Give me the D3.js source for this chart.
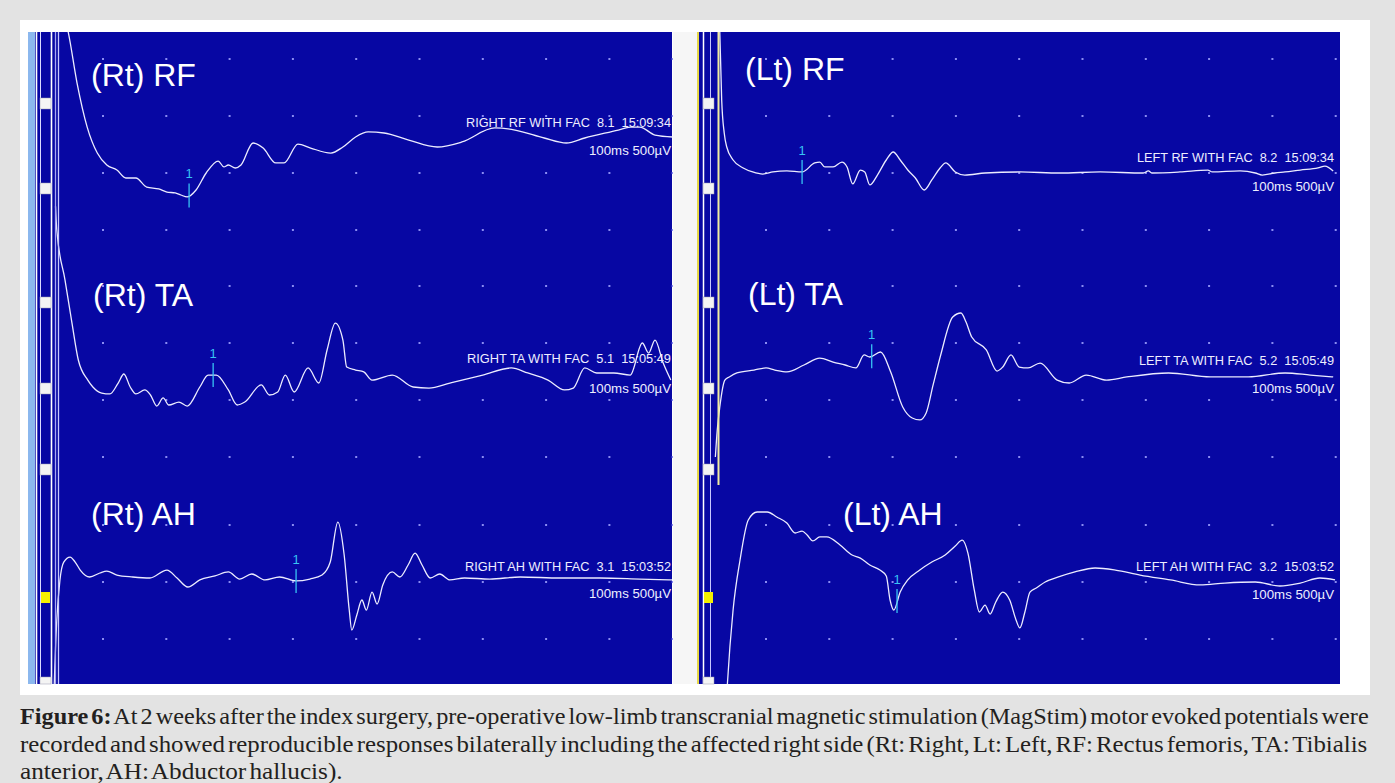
<!DOCTYPE html>
<html><head><meta charset="utf-8">
<script src="https://cdn.jsdelivr.net/npm/d3@7"></script>
<style>body{margin:0;background:#e3e3e3;} svg{display:block}</style>
</head><body><svg id="c" width="1395" height="783"></svg>
<script>
// ---- data: [time (ms), amplitude (µV)] ----
const rtRF = [[3.6,1430],[4.5,1237],[5.9,789],[7.5,403],[9.1,175],[10.6,70],[12.2,26],[13.6,-44],[15.2,-44],[16.9,-123],[18.8,-140],[20.1,-167],[21.4,-175],[22.3,-193],[23.3,-210],[24.7,-149],[26.3,0],[28.2,105],[29.1,53],[29.8,70],[30.9,44],[31.8,70],[33.7,263],[35.3,219],[37.3,88],[38.6,88],[40.8,254],[42.8,219],[46.0,175],[47.9,228],[49.9,316],[51.9,360],[54.4,351],[58.3,289],[62.8,228],[66.7,272],[71.9,395],[75.1,377],[79.7,307],[83.2,263],[86.1,307],[91.4,377],[93.3,403],[94.8,403],[97.2,333],[100,316]];
const rtTA = [[2.5,1700],[2.7,1491],[4.0,1052],[5.1,675],[6.1,351],[7.6,175],[8.4,114],[9.8,61],[11.1,53],[12.4,149],[13.3,228],[14.3,114],[15.2,53],[16.6,88],[17.5,44],[18.5,-53],[19.5,18],[20.4,-44],[22.0,-18],[23.3,-53],[25.3,114],[26.6,219],[27.9,219],[29.8,88],[31.2,-44],[32.4,-18],[35.0,132],[36.3,44],[37.6,70],[38.8,219],[40.2,70],[42.4,281],[44.1,149],[45.4,439],[46.7,675],[47.9,526],[48.5,289],[49.9,263],[51.2,246],[52.5,175],[55.7,219],[59.0,114],[61.5,105],[64.8,149],[70.0,219],[74.5,281],[77.1,237],[80.3,175],[82.9,88],[84.3,105],[86.1,281],[88.0,237],[90.7,237],[93.3,219],[95.2,500],[96.2,412],[97.2,526],[98.5,324],[99.7,175]];
const rtAH = [[2.0,-1500],[2.3,-895],[2.7,-333],[3.2,18],[3.8,175],[4.8,219],[5.6,175],[6.4,105],[7.9,44],[9.5,79],[10.6,96],[12.2,61],[14.7,44],[17.4,35],[20.1,105],[21.7,35],[23.4,-44],[25.3,18],[27.7,53],[29.8,88],[31.6,26],[33.5,70],[35.6,18],[37.9,44],[40.5,9],[42.7,26],[44.6,61],[45.9,175],[47.1,526],[48.1,237],[48.9,-246],[49.3,-421],[50.1,-289],[50.9,-158],[51.6,-246],[52.5,-88],[53.3,-193],[54.2,-26],[55.7,88],[56.9,44],[58.2,149],[59.3,254],[60.4,149],[61.7,35],[63.2,70],[64.8,18],[67.1,35],[71.1,26],[75.9,44],[82.2,35],[88.5,35],[94.8,26],[99.9,18]];
const ltRF = [[2.6,1500],[2.7,1237],[3.0,640],[3.4,351],[3.8,228],[4.8,114],[6.4,44],[7.9,9],[9.5,-9],[11.1,9],[13.3,18],[15.7,9],[17.7,88],[18.5,96],[19.3,53],[20.6,53],[22.0,96],[22.8,53],[23.7,-96],[24.9,26],[25.6,9],[26.4,-105],[27.6,-18],[29.0,114],[30.1,184],[31.2,114],[32.4,26],[33.6,-44],[35.0,-149],[36.2,-61],[37.5,44],[38.4,88],[39.9,9],[41.4,-18],[44.6,0],[50.1,9],[56.4,0],[62.8,9],[69.6,0],[70.4,18],[71.0,0],[75.4,9],[79.8,26],[80.5,9],[84.9,18],[87.3,0],[88.4,-18],[90.4,0],[92.0,9],[94.4,26],[97.2,44],[98.3,61],[99.6,18]];
const ltTA = [[2.0,-500],[2.3,-263],[2.7,-61],[3.5,175],[4.2,202],[5.4,237],[8.1,263],[10.0,281],[11.4,263],[13.3,246],[16.0,307],[18.5,368],[20.6,333],[22.5,307],[24.2,281],[25.5,395],[26.4,377],[28.1,421],[29.7,246],[31.6,-61],[33.1,-158],[34.3,-175],[35.3,-114],[36.4,132],[37.6,395],[39.5,728],[40.8,763],[41.6,684],[42.5,553],[44.8,439],[46.5,254],[47.4,289],[48.7,395],[50.0,289],[51.4,281],[53.3,324],[56.0,175],[57.9,149],[60.6,219],[63.8,175],[67.0,202],[73.6,237],[80.2,202],[86.2,202],[92.0,237],[96.0,219],[99.6,202]];
const ltAH = [[3.6,-1200],[3.9,-895],[4.8,-246],[5.9,193],[7.2,544],[8.6,614],[10.2,614],[11.7,570],[13.3,517],[14.6,430],[15.7,447],[16.5,412],[17.4,360],[18.5,395],[19.6,395],[21.7,324],[23.6,237],[24.9,210],[26.4,149],[28.0,105],[29.0,53],[29.6,-158],[30.2,-246],[31.2,-88],[32.4,18],[34.3,105],[36.2,175],[38.3,237],[39.9,316],[41.0,368],[41.9,254],[42.9,-70],[43.7,-263],[44.6,-202],[45.4,-281],[46.3,-175],[47.4,-88],[48.5,-158],[49.5,-333],[50.1,-403],[50.9,-263],[51.7,-88],[52.7,-53],[54.1,0],[56.2,44],[58.8,88],[62.0,123],[65.2,105],[69.1,61],[73.9,18],[78.6,-26],[82.5,-9],[87.3,0],[91.2,-35],[94.4,-9],[97.5,35],[99.9,18]];

const traceNames = ["(Rt) RF","(Rt) TA","(Rt) AH","(Lt) RF","(Lt) TA","(Lt) AH"];
const infoLabels = ["RIGHT RF WITH FAC  8.1  15:09:34","RIGHT TA WITH FAC  5.1  15:05:49","RIGHT AH WITH FAC  3.1  15:03:52",
                    "LEFT RF WITH FAC  8.2  15:09:34","LEFT TA WITH FAC  5.2  15:05:49","LEFT AH WITH FAC  3.2  15:03:52"];
const scaleLabel = "100ms 500µV";
const markerTimes = [23.6, 27.4, 40.5, 15.7, 26.7, 30.7];
const markerText = "1";
const timeTicks = [10,20,30,40,50,60,70,80,90,100];
const captionBold = "Figure 6:";
const captionLines = [
  " At 2 weeks after the index surgery, pre-operative low-limb transcranial magnetic stimulation (MagStim) motor evoked potentials were",
  "recorded and showed reproducible responses bilaterally including the affected right side (Rt: Right, Lt: Left, RF: Rectus femoris, TA: Tibialis",
  "anterior, AH: Abductor hallucis)."
];
const traces = [rtRF, rtTA, rtAH, ltRF, ltTA, ltAH];

// ---- layout ----
const W = 1395, H = 783;
const svg = d3.select('#c');
const BLUE = '#0707a3';
svg.append('rect').attr('width', W).attr('height', H).attr('fill', '#e3e3e3');
svg.append('rect').attr('x', 20).attr('y', 20).attr('width', 1350).attr('height', 675).attr('fill', '#ffffff');

const panels = [
  {x0: 39.7, left: 28, right: 672, top: 32, bottom: 684, labelX: [91, 93, 91], labelY: [86, 306, 525],
   infoX: 671, infoY: [[127,155],[363,393],[571,598]], infoW: [205,204,206]},
  {x0: 702.7, left: 699, right: 1340, top: 32, bottom: 684, labelX: [745, 748, 843], labelY: [80, 305, 525],
   infoX: 1334, infoY: [[162,191],[365,393],[571,599]], infoW: [197,195,198]}
];
const rows = [{base: 173, s0: 32, s1: 232}, {base: 400, s0: 232, s1: 485}, {base: 582, s0: 485, s1: 684}];
const divPx = 63.3, ampPx = 57;

panels.forEach((p, pi) => {
  const g = svg.append('g');
  g.append('rect').attr('x', p.left).attr('y', p.top).attr('width', p.right - p.left).attr('height', p.bottom - p.top).attr('fill', BLUE);
  const clipId = 'clip' + pi;
  svg.append('clipPath').attr('id', clipId).append('rect')
    .attr('x', p.left).attr('y', p.top).attr('width', p.right - p.left + 1).attr('height', p.bottom - p.top);
  const x = d3.scaleLinear().domain([0, 100]).range([p.x0, p.x0 + divPx * 10]);

  rows.forEach((r, ri) => {
    const y = d3.scaleLinear().domain([0, 500]).range([r.base, r.base - ampPx]);
    const levels = d3.range(-6, 7).map(k => k * 500).filter(v => y(v) >= r.s0 + 5 && y(v) <= r.s1 + 1);
    const dots = [];
    levels.forEach(v => timeTicks.forEach(t => dots.push([t, v])));
    g.append('g').attr('clip-path', `url(#${clipId})`).selectAll('rect').data(dots).join('rect')
      .attr('x', d => x(d[0]) - 1).attr('y', d => y(d[1]) - 1).attr('width', 2).attr('height', 2)
      .attr('fill', '#8a8cf2');

    const idx = pi * 3 + ri;
    const data = traces[idx];
    const line = d3.line().x(d => x(d[0])).y(d => y(d[1])).curve(d3.curveMonotoneX);
    g.append('path').attr('clip-path', `url(#${clipId})`).attr('d', line(data))
      .attr('fill', 'none').attr('stroke', '#ececff').attr('stroke-width', 1.3);

    const mt = markerTimes[idx];
    const interp = d3.scaleLinear().domain(data.map(d => d[0])).range(data.map(d => d[1]));
    const my = y(interp(mt));
    g.append('line').attr('x1', x(mt)).attr('x2', x(mt)).attr('y1', my - 12).attr('y2', my + 12)
      .attr('stroke', '#38c4f4').attr('stroke-width', 1.3);
    g.append('text').attr('x', x(mt)).attr('y', my - 17).attr('text-anchor', 'middle')
      .attr('font-family', 'Liberation Sans, Arial, sans-serif').attr('font-size', 13).attr('fill', '#38c4f4')
      .text(markerText);

    g.append('text').attr('x', p.labelX[ri]).attr('y', p.labelY[ri])
      .attr('font-family', 'Liberation Sans, Arial, sans-serif').attr('font-size', 32).attr('fill', '#ffffff')
      .text(traceNames[idx]);
    g.append('text').attr('x', p.infoX).attr('y', p.infoY[ri][0]).attr('text-anchor', 'end')
      .attr('font-family', 'Liberation Sans, Arial, sans-serif').attr('font-size', 12.5).attr('fill', '#eeeeff')
      .attr('textLength', p.infoW[ri]).attr('lengthAdjust', 'spacingAndGlyphs')
      .style('white-space', 'pre').text(infoLabels[idx]);
    g.append('text').attr('x', p.infoX).attr('y', p.infoY[ri][1]).attr('text-anchor', 'end')
      .attr('font-family', 'Liberation Sans, Arial, sans-serif').attr('font-size', 12.5).attr('fill', '#eeeeff')
      .attr('textLength', 82).attr('lengthAdjust', 'spacingAndGlyphs')
      .text(scaleLabel);
  });
});

// ---- stimulus artifact / screen-edge decorations ----
const deco = svg.append('g');
deco.append('rect').attr('x', 28).attr('y', 32).attr('width', 7).attr('height', 652).attr('fill', '#8cb8ee');
[[36.5,1.6,'#ffffff'],[40.5,1,'#dcdcff'],[51.5,1.6,'#ffffff'],[55.5,1.3,'#a8a8f0'],[58.5,1.3,'#c8c8ff']].forEach(([lx,w,c]) =>
  deco.append('line').attr('x1', lx).attr('x2', lx).attr('y1', 32).attr('y2', 684).attr('stroke', c).attr('stroke-width', w));
deco.append('rect').attr('x', 673).attr('y', 32).attr('width', 24).attr('height', 652).attr('fill', '#f6f6f6');
[[698,2,'#e6d84a',684],[703.5,1.5,'#ffffff',684],[710.5,1,'#c8c8ff',684],[718.5,2,'#f0eca0',485]].forEach(([lx,w,c,yb]) =>
  deco.append('line').attr('x1', lx).attr('x2', lx).attr('y1', 32).attr('y2', yb).attr('stroke', c).attr('stroke-width', w));
const handleY = [98, 183, 297, 383, 464, 677];
[40, 703].forEach(hx => {
  handleY.forEach(hy => deco.append('rect').attr('x', hx).attr('y', hy).attr('width', 11).attr('height', hy === 677 ? 7 : 11)
    .attr('fill', '#f4f4f4').attr('stroke', '#9a9ab0').attr('stroke-width', 0.5));
  deco.append('rect').attr('x', hx + 1).attr('y', 592).attr('width', 9).attr('height', 11).attr('fill', '#f5f000');
});

// ---- caption ----
const capX = 20, capY = [724, 752, 779], capW = [1349, 1348, 323];
captionLines.forEach((txt, i) => {
  const t = svg.append('text').attr('font-family', 'Liberation Serif, Times New Roman, serif')
    .attr('font-size', 24).attr('word-spacing', -3).attr('fill', '#231f20').style('white-space', 'pre');
  if (i === 0) t.append('tspan').attr('font-weight', 'bold').text(captionBold);
  t.append('tspan').text(txt);
  const w = t.node().getComputedTextLength();
  t.attr('transform', `translate(${capX},${capY[i]}) scale(${capW[i] / w},1)`);
});
</script>
</body></html>
